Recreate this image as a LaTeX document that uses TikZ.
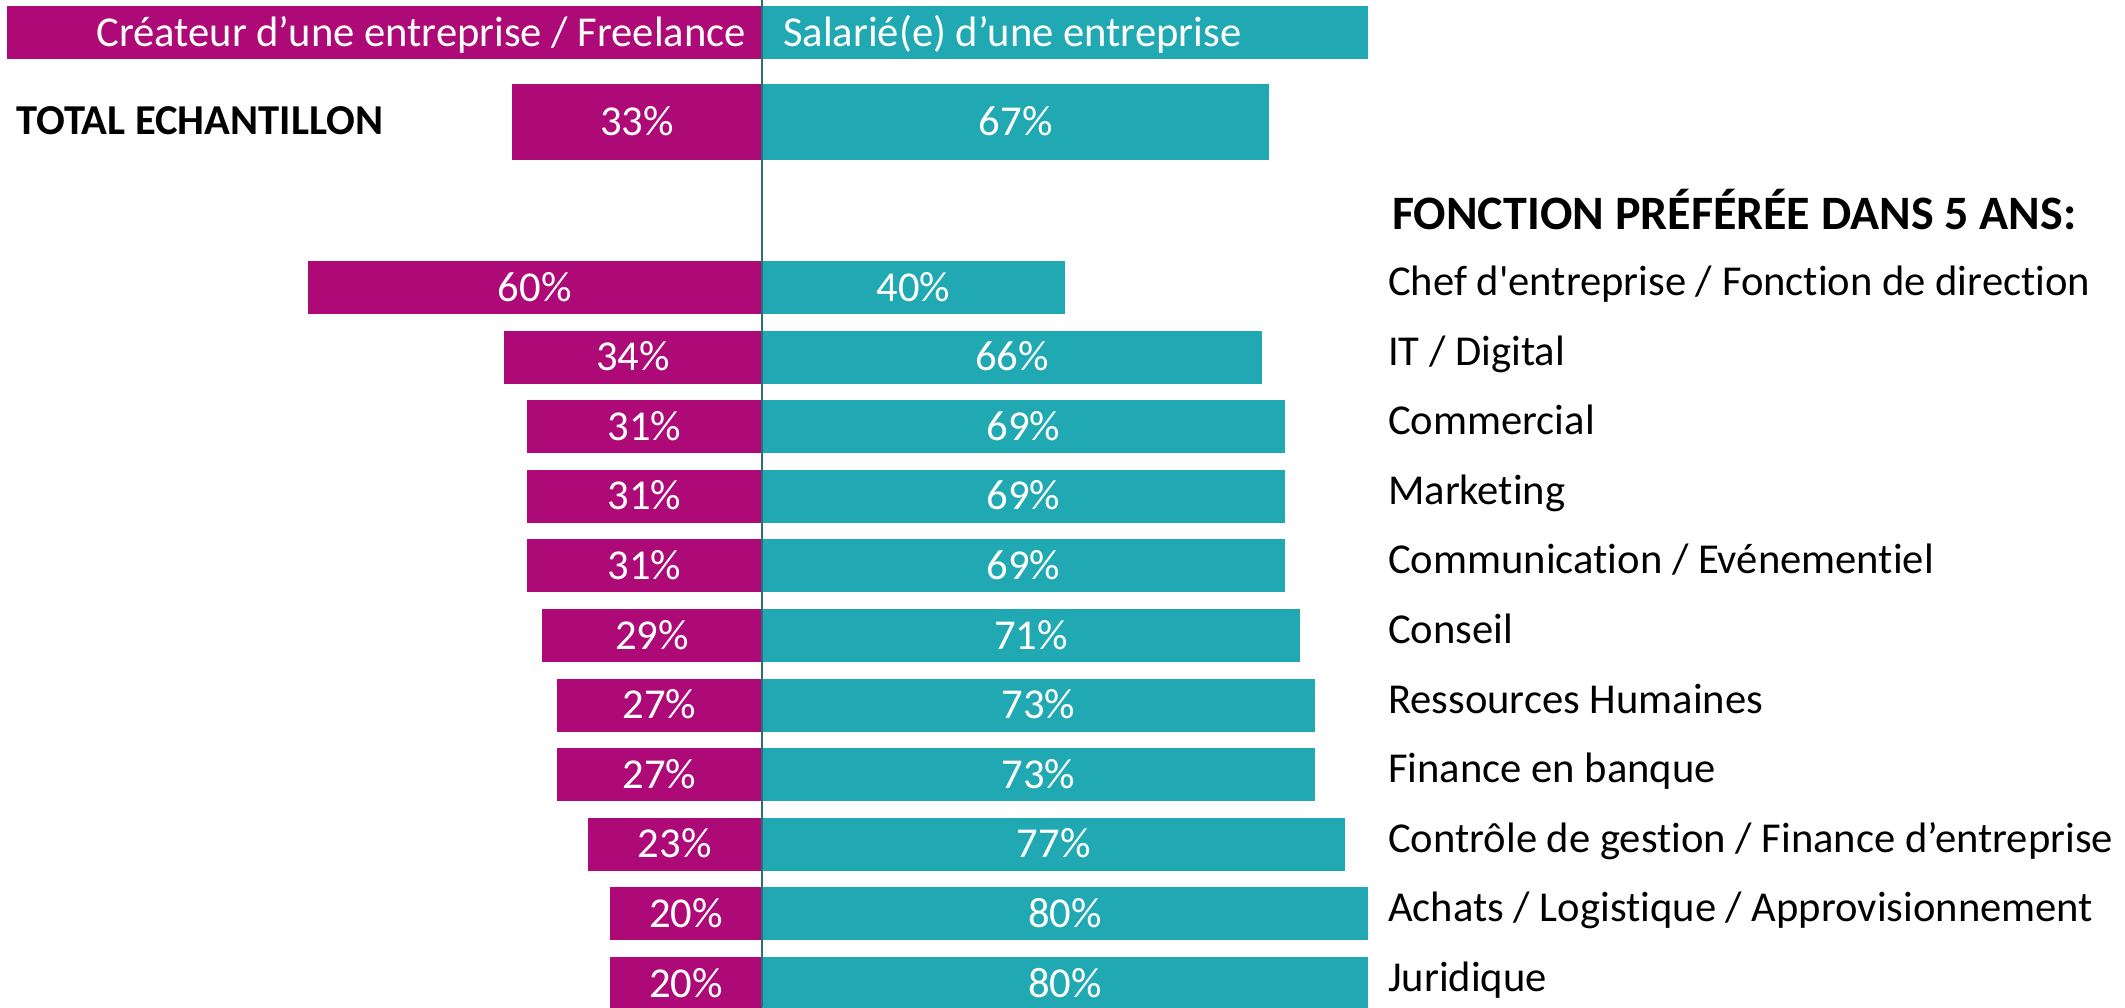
\documentclass[tikz,border=0pt]{standalone}
\usepackage{fontspec}
\setmainfont{Carlito}[Ligatures = NoCommon]
\usepackage{xcolor}
\definecolor{creatorcolor}{HTML}{AD0A78}
\definecolor{employeecolor}{HTML}{21A9B3}
\definecolor{axiscolor}{HTML}{2C6E76}

\tikzset{
    bigtext/.style = {font = \fontsize{42.6}{51}\selectfont},
    creatorbar/.style = {bigtext, fill = creatorcolor, text = white, anchor = east, inner sep = 0pt, minimum height = 53pt, text height = 27pt, text depth = 0pt},
    employeebar/.style = {bigtext, fill = employeecolor, text = white, anchor = west, inner sep = 0pt, minimum height = 53pt, text height = 27pt, text depth = 0pt},
    funclabel/.style = {bigtext, anchor = west, inner sep = 0pt, text height = 27pt, text depth = 11pt},
}

\begin{document}
\begin{tikzpicture}
        \useasboundingbox (0pt, 0pt) rectangle (2125pt, -1007pt);

        % Header
        \node [creatorbar, minimum width = 755pt] (hl) at (762pt, -32.5pt) {};
        \node [employeebar, minimum width = 606pt] (hr) at (762pt, -32.5pt) {};
        \node [bigtext, text = white, anchor = base east, inner sep = 0pt] (hltext) at (746pt, -46.7pt) {Créateur d’une entreprise / Freelance};
        \node [bigtext, text = white, anchor = base west, inner sep = 0pt] (hrtext) at (783pt, -46.7pt) {Salarié(e) d’une entreprise};

        % Total
        \node [funclabel, font = \fontsize{42.6}{51}\selectfont\bfseries] (total) at (16pt, -126pt) {TOTAL ECHANTILLON};
        \node [creatorbar, minimum width = 249.8pt, minimum height = 76pt] (lt) at (762pt, -122pt) {33\%};
        \node [employeebar, minimum width = 507.2pt, minimum height = 76pt] (rt) at (762pt, -122pt) {67\%};

        % Title
        \node [funclabel, font = \fontsize{48}{57}\selectfont\bfseries] (title) at (1392pt, -221pt) {FONCTION PRÉFÉRÉE DANS 5 ANS:};

        % Bars
        \node [creatorbar, minimum width = 454.2pt] (l1) at (762pt, -287.5pt) {60\%};
        \node [employeebar, minimum width = 302.8pt] (r1) at (762pt, -287.5pt) {40\%};
        \node [creatorbar, minimum width = 257.4pt] (l2) at (762pt, -357.1pt) {34\%};
        \node [employeebar, minimum width = 499.6pt] (r2) at (762pt, -357.1pt) {66\%};
        \node [creatorbar, minimum width = 234.7pt] (l3) at (762pt, -426.7pt) {31\%};
        \node [employeebar, minimum width = 522.3pt] (r3) at (762pt, -426.7pt) {69\%};
        \node [creatorbar, minimum width = 234.7pt] (l4) at (762pt, -496.3pt) {31\%};
        \node [employeebar, minimum width = 522.3pt] (r4) at (762pt, -496.3pt) {69\%};
        \node [creatorbar, minimum width = 234.7pt] (l5) at (762pt, -565.9pt) {31\%};
        \node [employeebar, minimum width = 522.3pt] (r5) at (762pt, -565.9pt) {69\%};
        \node [creatorbar, minimum width = 219.5pt] (l6) at (762pt, -635.5pt) {29\%};
        \node [employeebar, minimum width = 537.5pt] (r6) at (762pt, -635.5pt) {71\%};
        \node [creatorbar, minimum width = 204.4pt] (l7) at (762pt, -705.1pt) {27\%};
        \node [employeebar, minimum width = 552.6pt] (r7) at (762pt, -705.1pt) {73\%};
        \node [creatorbar, minimum width = 204.4pt] (l8) at (762pt, -774.7pt) {27\%};
        \node [employeebar, minimum width = 552.6pt] (r8) at (762pt, -774.7pt) {73\%};
        \node [creatorbar, minimum width = 174.1pt] (l9) at (762pt, -844.3pt) {23\%};
        \node [employeebar, minimum width = 582.9pt] (r9) at (762pt, -844.3pt) {77\%};
        \node [creatorbar, minimum width = 151.4pt] (l10) at (762pt, -913.9pt) {20\%};
        \node [employeebar, minimum width = 605.6pt] (r10) at (762pt, -913.9pt) {80\%};
        \node [creatorbar, minimum width = 151.4pt] (l11) at (762pt, -983.5pt) {20\%};
        \node [employeebar, minimum width = 605.6pt] (r11) at (762pt, -983.5pt) {80\%};

        % Functions
        \node [funclabel] (f1) at (1388pt, -287.5pt) {Chef d\textquotesingle entreprise / Fonction de direction};
        \node [funclabel] (f2) at (1388pt, -357.1pt) {IT / Digital};
        \node [funclabel] (f3) at (1388pt, -426.7pt) {Commercial};
        \node [funclabel] (f4) at (1388pt, -496.3pt) {Marketing};
        \node [funclabel] (f5) at (1388pt, -565.9pt) {Communication / Evénementiel};
        \node [funclabel] (f6) at (1388pt, -635.5pt) {Conseil};
        \node [funclabel] (f7) at (1388pt, -705.1pt) {Ressources Humaines};
        \node [funclabel] (f8) at (1388pt, -774.7pt) {Finance en banque};
        \node [funclabel] (f9) at (1388pt, -844.3pt) {Contrôle de gestion / Finance d’entreprise};
        \node [funclabel] (f10) at (1388pt, -913.9pt) {Achats / Logistique / Approvisionnement};
        \node [funclabel] (f11) at (1388pt, -983.5pt) {Juridique};

        % Axis
        \coordinate (axtop) at (762pt, 0pt);
        \coordinate (axbot) at (762pt, -1007pt);
        \draw [axiscolor, line width = 2pt] (axtop) -- (axbot);

    \end{tikzpicture}
\end{document}
